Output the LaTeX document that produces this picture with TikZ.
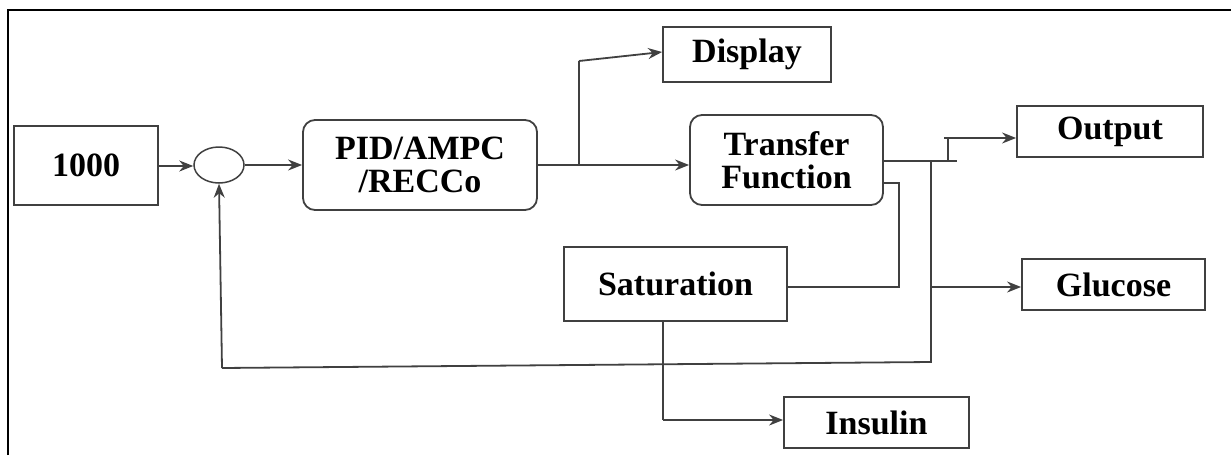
\documentclass[tikz,border=0pt]{standalone}
\usepackage{fontspec}
\setmainfont{Liberation Serif}
\usetikzlibrary{shapes.geometric,arrows.meta}
\tikzset{
  blk/.style={draw=black!75, line width=1.8pt, fill=white, inner sep=0pt, align=center,
    font=\bfseries\fontsize{34}{33}\selectfont, text=black},
  rblk/.style={blk, rounded corners=12pt},
  wire/.style={draw=black!75, line width=1.8pt},
  arr/.style={wire, -{Stealth[length=14pt,width=11pt]}},
}
\begin{document}
\begin{tikzpicture}[x=1pt,y=-1pt]
\useasboundingbox (0,0) rectangle (1231,455);
\draw[line width=1.4pt] (8,455) -- (8,10) -- (1231,10);

\node[blk, minimum width=144pt, minimum height=79pt] (ref) at (86,165.5) {1000};
\node[draw=black!75, line width=1.5pt, ellipse, minimum width=50pt, minimum height=36pt, inner sep=0pt] (sum) at (219,165) {};
\node[rblk, minimum width=234pt, minimum height=90pt] (pid) at (420,165) {PID/AMPC\\/RECCo};
\node[blk, minimum width=168pt, minimum height=55pt] (disp) at (747,54.5) {Display};
\node[rblk, minimum width=193pt, minimum height=90pt] (tf) at (786.5,160) {Transfer\\Function};
\node[blk, minimum width=186pt, minimum height=51pt] (out) at (1110,131.5) {Output};
\node[blk, minimum width=183pt, minimum height=51pt] (glu) at (1113.5,284.5) {Glucose};
\node[blk, minimum width=223pt, minimum height=74pt] (sat) at (675.5,284) {Saturation};
\node[blk, minimum width=185pt, minimum height=51pt] (ins) at (876.5,422.5) {Insulin};

\coordinate (br) at (579,165);
\coordinate (br2) at (579,61);
\coordinate (tfo) at (931,161);
\coordinate (tfe) at (957,161);
\coordinate (ot) at (948,161);
\coordinate (ot2) at (948,138);
\coordinate (ot3) at (944,138);
\coordinate (fb1) at (931,362);
\coordinate (fb2) at (222,368);
\coordinate (gl) at (931,287);
\coordinate (s1) at (883,183);
\coordinate (s2) at (899,183);
\coordinate (s3) at (899,287);
\coordinate (i1) at (663,420);

\draw[arr] (ref.east |- 0,166) -- (sum.west |- 0,166);
\draw[arr] (sum.east) -- (pid.west);
\draw[arr] (pid.east) -- (tf.west |- pid.east);
\draw[wire] (br) -- (br2);
\draw[arr] (br2) -- (disp.west |- 0,52);
\draw[wire] (tf.east |- tfe) -- (tfe);
\draw[wire] (ot) -- (ot2);
\draw[arr] (ot3) -- (out.west |- ot3);
\draw[wire] (tfo) -- (fb1) -- (fb2);
\draw[arr] (fb2) -- (sum.south);
\draw[arr] (gl) -- (glu.west |- gl);
\draw[wire] (s1) -- (s2) -- (s3) -- (sat.east |- s3);
\draw[wire] (sat.south -| i1) -- (i1);
\draw[arr] (i1) -- (ins.west |- i1);
\end{tikzpicture}
\end{document}
